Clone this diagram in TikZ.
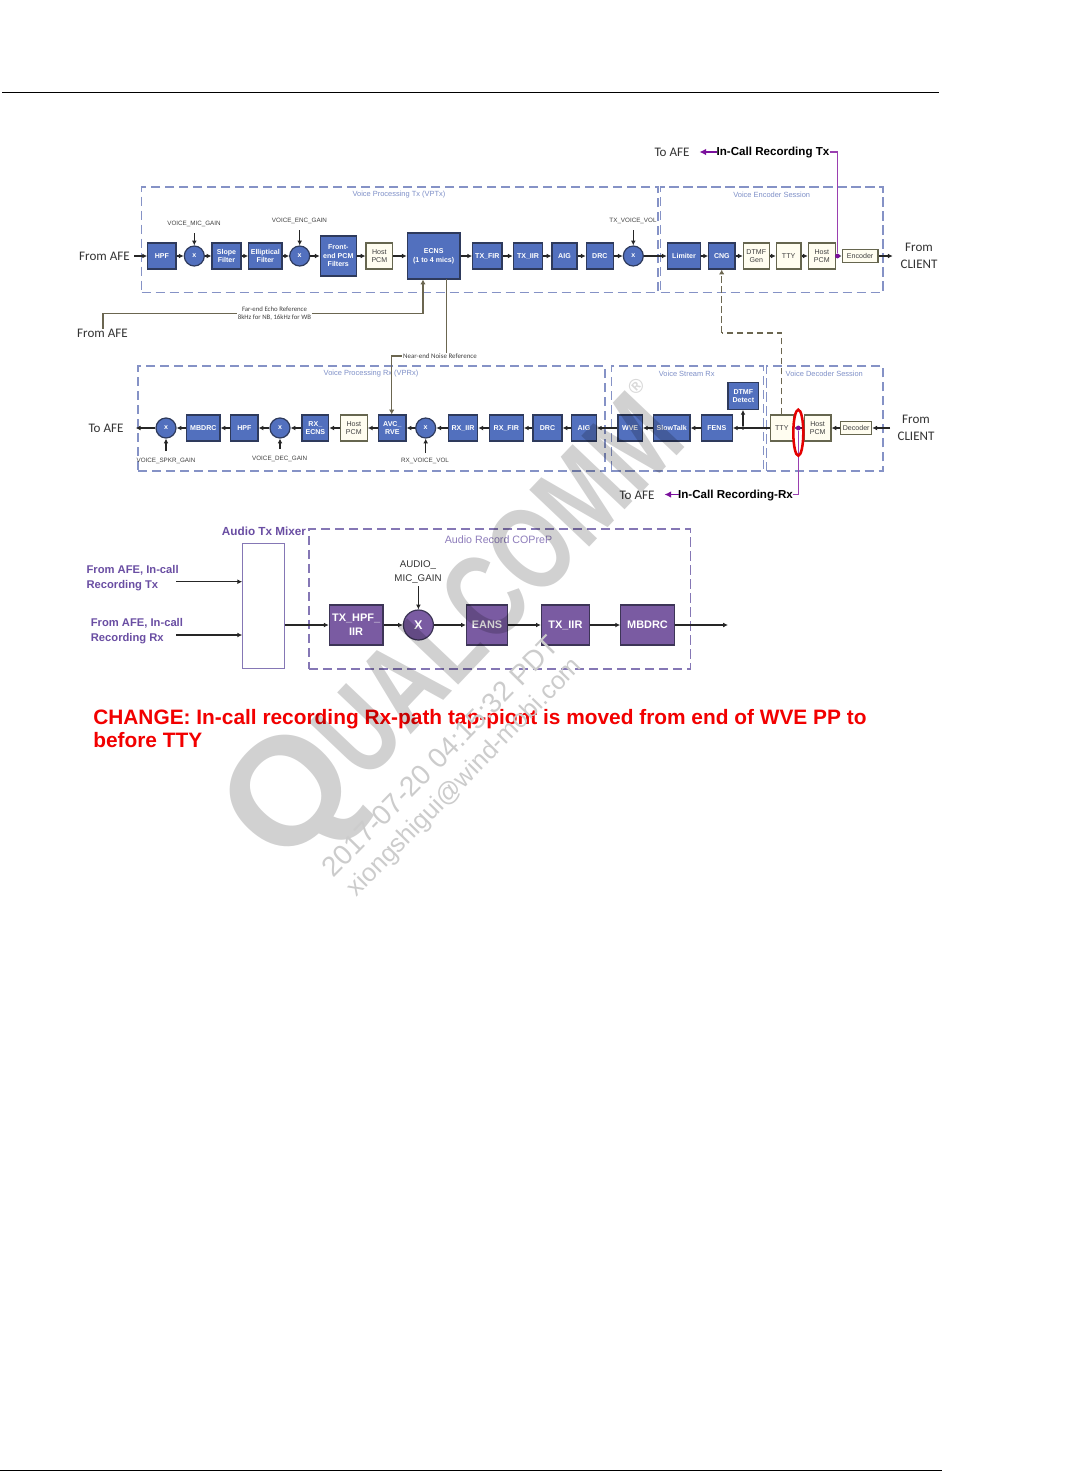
\documentclass[tikz,border=0pt]{standalone}
\usepackage{fontspec}
\setmainfont{Liberation Sans}
\newfontfamily\calib{Carlito}
\usetikzlibrary{arrows.meta,shapes.geometric}
\definecolor{blk}{HTML}{5270BE}
\definecolor{blkline}{HTML}{2E3A5C}
\definecolor{crm}{HTML}{FFFDF0}
\definecolor{crmline}{HTML}{66664F}
\definecolor{prp}{HTML}{7A5BA2}
\definecolor{prpline}{HTML}{3D3557}
\definecolor{prptxt}{HTML}{6A4EA3}
\definecolor{tap}{HTML}{9A3FB0}
\definecolor{tapd}{HTML}{7A0F9C}
\definecolor{dashb}{HTML}{8592C6}
\definecolor{dashp}{HTML}{8577B5}
\definecolor{ttl}{HTML}{7F90C8}
\definecolor{ttlp}{HTML}{8E7DBB}
\definecolor{darkl}{HTML}{6B6650}
\tikzset{
 bx/.style={draw=blkline,line width=.9pt,fill=blk,text=white,font=\fontsize{5.3}{6.4}\selectfont\bfseries,align=center,inner sep=0pt},
 rnd/.style={bx,circle},
 crmb/.style={draw=crmline,line width=.8pt,fill=crm,text=black!75,font=\fontsize{5.3}{6.4}\selectfont,align=center,inner sep=0pt},
 pbx/.style={draw=prpline,line width=.9pt,fill=prp,text=white,font=\fontsize{8.2}{10.5}\selectfont\bfseries,align=center,inner sep=0pt},
 prnd/.style={pbx,circle},
 conn/.style={draw=black!85,line width=.8pt,-{Latex[length=3.6pt,width=3.6pt]}},
 refl/.style={draw=darkl,line width=1pt},
 refa/.style={refl,-{Latex[length=3.5pt,width=4pt]}},
 dashl/.style={draw=darkl,line width=1pt,dash pattern=on 5pt off 2.5pt},
 tapl/.style={draw=tap,line width=.9pt},
 tapa/.style={draw=tapd,line width=.9pt,-{Latex[length=5pt,width=5pt]}},
 vbox/.style={draw=dashb,line width=1pt,dash pattern=on 7pt off 3.5pt},
 pbox/.style={draw=dashp,line width=1pt,dash pattern=on 7pt off 3.5pt},
 sect/.style={text=ttl,font=\fontsize{5.6}{6.5}\selectfont,inner sep=0pt},
 gain/.style={text=black!75,font=\fontsize{4.7}{5}\selectfont,inner sep=0pt},
 big/.style={text=black!80,font=\calib\fontsize{9.8}{11.8}\selectfont,align=center,inner sep=0pt},
 rec/.style={text=black,font=\fontsize{8.7}{10}\selectfont\bfseries,inner sep=0pt},
 reff/.style={fill=white,text=black!75,font=\calib\fontsize{5.1}{6.6}\selectfont,align=center,inner sep=.6pt},
 ptxt/.style={text=prptxt,font=\fontsize{8.4}{11.2}\selectfont\bfseries,align=left,inner sep=0pt},
 wm/.style={text=black,opacity=.18,font=\bfseries,inner sep=0pt,rotate=46.5},
 wmt/.style={text=black!20,inner sep=0pt,rotate=45.5},
 dotp/.style={circle,fill=tapd,inner sep=0pt,minimum size=3.6pt},
 dotk/.style={circle,fill=black!85,inner sep=0pt,minimum size=2.8pt},
}
\newcommand{\blkn}[7]{\node[#6,minimum width={(#4-#2)*.75pt},minimum height={(#5-#3)*.75pt}] (#1) at ({(#2+#4)/2},{(#3+#5)/2}) {#7};}
\newcommand{\crc}[5]{\node[#5,minimum size={2*#4*.75pt}] (#1) at (#2,#3) {x};}
\begin{document}
\begin{tikzpicture}[x=.75pt,y=-.75pt]
\useasboundingbox (0,0) rectangle (1083,1471);
\fill[white] (0,0) rectangle (1083,1471);
% page rules
\coordinate (hl) at (2,92); \coordinate (hr) at (939,92);
\coordinate (fl) at (0,1470.5); \coordinate (fr) at (942,1470.5);
\draw[black,line width=.75pt] (hl) -- (hr);
\draw[black,line width=1pt] (fl) -- (fr);
% dashed groups
\node[vbox,minimum width={516.5*.75pt},minimum height={105.5*.75pt},inner sep=0pt] (vptx) at (399.75,239.75) {};
\node[vbox,minimum width={222.3*.75pt},minimum height={105.5*.75pt},inner sep=0pt] (venc) at (771.85,239.75) {};
\node[vbox,minimum width={467*.75pt},minimum height={105*.75pt},inner sep=0pt] (vprx) at (371.5,418.5) {};
\node[vbox,minimum width={152*.75pt},minimum height={105*.75pt},inner sep=0pt] (vstr) at (687.3,418.5) {};
\node[vbox,minimum width={116.3*.75pt},minimum height={105*.75pt},inner sep=0pt] (vdec) at (824.85,418.5) {};
\node[sect] (t1) at (399,194.5) {Voice Processing Tx (VPTx)};
\node[sect] (t2) at (771.7,194.5) {Voice Encoder Session};
\node[sect] (t3) at (371,373.5) {Voice Processing Rx (VPRx)};
\node[sect] (t4) at (686.7,373.5) {Voice Stream Rx};
\node[sect] (t5) at (824.3,373.5) {Voice Decoder Session};
% row 1
\blkn{hpfa}{147.7}{243}{176}{269}{bx}{HPF}
\crc{xa}{194.3}{256}{10}{rnd}
\blkn{slope}{212}{243}{241}{269}{bx}{Slope\\Filter}
\blkn{ell}{248.7}{243}{282}{269}{bx}{Elliptical\\Filter}
\crc{xb}{299.7}{256}{10}{rnd}
\blkn{front}{320.3}{236}{356.3}{276}{bx}{Front-\\end PCM\\Filters}
\blkn{hosta}{366}{243}{392.7}{269}{crmb}{Host\\PCM}
\blkn{ecns}{407.3}{233}{460}{279}{bx}{ECNS\\(1 to 4 mics)}
\blkn{txfir}{472.7}{243}{502}{269}{bx}{TX\_FIR}
\blkn{txiir}{513.3}{243}{542.7}{269}{bx}{TX\_IIR}
\blkn{aiga}{552}{243}{577}{269}{bx}{AIG}
\blkn{drca}{586.3}{243}{613.3}{269}{bx}{DRC}
\crc{xc}{633.3}{256}{10}{rnd}
\blkn{lim}{667.3}{243}{700.7}{269}{bx}{Limiter}
\blkn{cng}{708.7}{243}{735}{269}{bx}{CNG}
\blkn{dtmfg}{743.3}{243}{769.3}{269}{crmb}{DTMF\\Gen}
\blkn{ttya}{776.3}{243}{801}{269}{crmb}{TTY}
\blkn{hostb}{808.3}{243}{835.3}{269}{crmb}{Host\\PCM}
\blkn{enc}{842.3}{249.5}{878}{262.5}{crmb}{Encoder}
\coordinate (ain) at (134,256);
\coordinate (aout) at (892.7,256);
\foreach \p/\q in {ain/hpfa,hpfa/xa,xa/slope,slope/ell,ell/xb,xb/front,front/hosta,hosta/ecns,ecns/txfir,txfir/txiir,txiir/aiga,aiga/drca,drca/xc,xc/lim,lim/cng,cng/dtmfg,dtmfg/ttya,ttya/hostb,hostb/enc,enc/aout}
  \draw[conn] (\p) -- (\q);
\node[big] (fafe1) at (104.5,256) {From AFE};
\node[big] (fcl1) at (919,255.5) {From\\[1pt]CLIENT};
\node[gain] (g1) at (194,224) {VOICE\_MIC\_GAIN};
\node[gain] (g2) at (299.5,221) {VOICE\_ENC\_GAIN};
\node[gain] (g3) at (633,221) {TX\_VOICE\_VOL};
\coordinate (g1s) at (194.3,233); \coordinate (g2s) at (299.7,230); \coordinate (g3s) at (633.3,230);
\draw[conn] (g1s) -- (xa);
\draw[conn] (g2s) -- (xb);
\draw[conn] (g3s) -- (xc);
% row 2
\crc{xd}{166}{428}{10}{rnd}
\blkn{mbd}{186.7}{415}{220}{441}{bx}{MBDRC}
\blkn{hpfb}{230.7}{415}{258}{441}{bx}{HPF}
\crc{xe}{280}{428}{10}{rnd}
\blkn{rxe}{302}{415}{328.7}{441}{bx}{RX\_\\ECNS}
\blkn{hostc}{340.3}{415}{367.3}{441}{crmb}{Host\\PCM}
\blkn{avc}{378.7}{415}{406}{441}{bx}{AVC\_\\RVE}
\crc{xf}{425.7}{428}{10}{rnd}
\blkn{rxiir}{448.3}{415}{477.7}{441}{bx}{RX\_IIR}
\blkn{rxfir}{489.3}{415}{523.3}{441}{bx}{RX\_FIR}
\blkn{drcb}{533}{415}{562}{441}{bx}{DRC}
\blkn{aigb}{571.7}{415}{596.3}{441}{bx}{AIG}
\blkn{wve}{618}{415}{642.3}{441}{bx}{WVE}
\blkn{slow}{653.3}{415}{690}{441}{bx}{SlowTalk}
\blkn{fens}{701.3}{415}{732.3}{441}{bx}{FENS}
\blkn{dtd}{728}{382.7}{758.7}{409.3}{bx}{DTMF\\Detect}
\blkn{ttyb}{770.3}{415}{793.3}{441}{crmb}{TTY}
\blkn{hostd}{804.3}{415}{831}{441}{crmb}{Host\\PCM}
\blkn{dec}{840.7}{421.5}{871.7}{434.5}{crmb}{Decoder}
\coordinate (bin) at (890,428);
\coordinate (bout) at (135.7,428);
\coordinate (jn) at (743,428);
\foreach \p/\q in {bin/dec,dec/hostd,hostd/ttyb,ttyb/fens,fens/slow,slow/wve,wve/aigb,aigb/drcb,drcb/rxfir,rxfir/rxiir,rxiir/xf,xf/avc,avc/hostc,hostc/rxe,rxe/xe,xe/hpfb,hpfb/mbd,mbd/xd,xd/bout}
  \draw[conn] (\p) -- (\q);
\node[dotk] (jnd) at (jn) {};
\draw[conn] (jnd) -- (jnd |- dtd.south);
\node[big] (tafe1) at (106,428) {To AFE};
\node[big] (fcl2) at (916,428) {From\\[1pt]CLIENT};
\node[gain] (g4) at (166,460.5) {VOICE\_SPKR\_GAIN};
\node[gain] (g5) at (279.7,458.5) {VOICE\_DEC\_GAIN};
\node[gain] (g6) at (425,460.5) {RX\_VOICE\_VOL};
\coordinate (g4s) at (166,451); \coordinate (g5s) at (280,449); \coordinate (g6s) at (425.7,453);
\draw[conn] (g4s) -- (xd);
\draw[conn] (g5s) -- (xe);
\draw[conn] (g6s) -- (xf);
% references between rows
\node[big] (fafe2) at (102.5,333) {From AFE};
\coordinate (r1) at (103,313.5);
\coordinate (r2) at (423,313.5);
\draw[refa] (fafe2.north -| r1) -- (r1) -- (r2) -- (r2 |- ecns.south);
\node[reff] (farl) at (274.5,313.5) {Far-end Echo Reference\\8kHz for NB, 16kHz for WB};
\coordinate (n0) at (446.7,279);
\coordinate (n1) at (446.7,356);
\coordinate (n2) at (391.7,356);
\draw[refa] (n0) -- (n1) -- (n2) -- (n2 |- avc.north);
\node[reff,font=\calib\fontsize{5.2}{6}\selectfont] (near) at (440,356) {Near-end Noise Reference};
\coordinate (d1) at (781.7,333);
\coordinate (d2) at (721.7,333);
\draw[dashl] (ttyb.north -| d1) -- (d1) -- (d2);
\draw[dashl,-{Latex[length=3.5pt,width=4pt]}] (d2) -- (cng.south -| d2);
% recording taps
\node[big] (tafe2) at (672,152) {To AFE};
\node[rec] (rtx) at (773,152.5) {In-Call Recording Tx};
\coordinate (tx0) at (829.5,152);
\coordinate (tx1) at (837.5,152);
\node[dotp] (txd) at (837.5,256) {};
\draw[tapl] (tx0) -- (tx1) -- (txd);
\coordinate (txa) at (699.5,152);
\coordinate (txb) at (717,152);
\draw[tapa] (txb) -- (txa);
\node[big] (tafe3) at (637,495) {To AFE};
\node[rec] (rrx) at (735.5,495.5) {In-Call Recording-Rx};
\node[dotp] (rxd) at (798.3,428) {};
\coordinate (rx1) at (798.3,494.5);
\coordinate (rx2) at (792.5,494.5);
\draw[tapl] (rxd) -- (rx1) -- (rx2);
\coordinate (rxa) at (664.5,494.5);
\coordinate (rxb) at (678.5,494.5);
\draw[tapa] (rxb) -- (rxa);
\node[draw=red!90!black,line width=1.9pt,ellipse,minimum width={10*.75pt},minimum height={46*.75pt},inner sep=0pt] (redo) at (798.3,432.7) {};
% audio record
\node[ptxt,font=\fontsize{8.8}{11}\selectfont\bfseries] (mixt) at (264,531.5) {Audio Tx Mixer};
\node[draw=dashp,line width=.75pt,fill=white,minimum width={41.6*.75pt},minimum height={124.7*.75pt},inner sep=0pt] (mix) at (263.5,605.7) {};
\node[pbox,minimum width={381.6*.75pt},minimum height={140*.75pt},inner sep=0pt] (arec) at (499.8,599) {};
\node[text=ttlp,font=\fontsize{8}{9}\selectfont,inner sep=0pt] (arect) at (498.5,540) {Audio Record COPreP};
\blkn{hpfc}{329.3}{605}{382.9}{645}{pbx}{TX\_HPF\_\\IIR}
\node[prnd,minimum size={30*.75pt},font=\fontsize{9.5}{11}\selectfont\bfseries] (xg) at (418.4,625) {X};
\blkn{eans}{466.4}{605}{507.6}{645}{pbx}{EANS}
\blkn{txiirb}{541.4}{605}{589.4}{645}{pbx}{TX\_IIR}
\blkn{mbdb}{620.7}{605}{674.3}{645}{pbx}{MBDRC}
\coordinate (pout) at (728,625);
\foreach \p/\q in {hpfc/xg,xg/eans,eans/txiirb,txiirb/mbdb,mbdb/pout}
  \draw[conn] (\p) -- (\q);
\coordinate (mo) at (mix.east |- hpfc);
\draw[conn] (mo) -- (hpfc);
\node[text=black!80,font=\fontsize{7.3}{10}\selectfont,align=center,inner sep=0pt] (amg) at (418,572) {AUDIO\_\\MIC\_GAIN};
\coordinate (amgs) at (418.4,586);
\draw[conn] (amgs) -- (xg);
\node[ptxt,anchor=west] (in1) at (86.3,578) {From AFE, In-call\\Recording Tx};
\node[ptxt,anchor=west] (in2) at (90.6,631.5) {From AFE, In-call\\Recording Rx};
\coordinate (i1) at (176.3,581.7); \coordinate (i2) at (176.3,635);
\draw[conn] (i1) -- (i1 -| mix.west);
\draw[conn] (i2) -- (i2 -| mix.west);
% change note
\node[text=red!95!black,font=\fontsize{15.65}{17.3}\selectfont\bfseries,align=left,anchor=north west,inner sep=0pt] (chg) at (93,709) {CHANGE: In-call recording Rx-path tap-piont is moved from end of WVE PP to\\before TTY};
% watermark
\node[wm] (qc) at (458,630) {\fontsize{115}{115}\selectfont Q\scalebox{.75}[1]{\fontsize{90}{90}\selectfont UALCOMM}};
\node[text=black,opacity=.15,font=\fontsize{15}{15}\selectfont\bfseries,inner sep=0pt,rotate=46] (reg) at (636,386) {®};
\node[wmt,font=\fontsize{21}{21}\selectfont] (wd) at (440,756) {2017-07-20 04:15:32 PDT};
\node[wmt,font=\fontsize{19}{19}\selectfont] (we) at (465,778) {xiongshigui@wind-mobi.com};
\end{tikzpicture}
\end{document}
